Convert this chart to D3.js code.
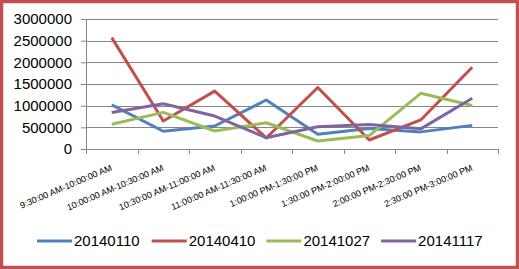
<!DOCTYPE html>
<html>
<head>
<meta charset="utf-8">
<script src="https://cdn.jsdelivr.net/npm/d3@7"></script>
<style>
  body { margin: 0; background: #fff; }
  text { font-family: "Liberation Sans", Arial, sans-serif; }
</style>
</head>
<body>
<div id="chart"></div>
<script>
// Data for the chart
const categories = [
    "9:30:00 AM-10:00:00 AM", "10:00:00 AM-10:30:00 AM", "10:30:00 AM-11:00:00 AM",
    "11:00:00 AM-11:30:00 AM", "1:00:00 PM-1:30:00 PM", "1:30:00 PM-2:00:00 PM",
    "2:00:00 PM-2:30:00 PM", "2:30:00 PM-3:00:00 PM"
];
const seriesNames = ["20140110", "20140410", "20141027", "20141117"];
const s20140110 = [1020000, 410000, 530000, 1130000, 340000, 475000, 395000, 545000];
const s20140410 = [2570000, 645000, 1335000, 255000, 1420000, 208000, 670000, 1885000];
const s20141027 = [570000, 845000, 415000, 605000, 185000, 310000, 1285000, 1005000];
const s20141117 = [840000, 1045000, 760000, 260000, 515000, 565000, 465000, 1170000];
const yTicks = [0, 500000, 1000000, 1500000, 2000000, 2500000, 3000000];
const colors = ["#4f81bd", "#c0504d", "#9bbb59", "#8064a2"];

const series = [s20140110, s20140410, s20141027, s20141117];

const W = 519, H = 269;
const margin = { top: 19, right: 21, bottom: 120, left: 86 };
const width = W - margin.left - margin.right;
const height = H - margin.top - margin.bottom;

const root = d3.select("#chart")
    .append("svg")
    .attr("width", W)
    .attr("height", H);

// Outer frame
root.append("rect")
    .attr("x", 1.5).attr("y", 1.5)
    .attr("width", W - 3).attr("height", H - 3)
    .attr("fill", "#fff")
    .attr("stroke", "#c0504d")
    .attr("stroke-width", 3.5);

const svg = root.append("g")
    .attr("transform", `translate(${margin.left},${margin.top})`);

// Scales
const x = d3.scaleBand().domain(categories).range([0, width]);
const y = d3.scaleLinear().domain([0, 3000000]).range([height, 0]);

// Gridlines
svg.selectAll(".grid")
    .data(yTicks.filter(d => d > 0))
    .enter()
    .append("line")
    .attr("x1", 0).attr("x2", width)
    .attr("y1", d => Math.round(y(d)) + 0.5)
    .attr("y2", d => Math.round(y(d)) + 0.5)
    .attr("stroke", "#868686");

// Y axis
const yAxis = svg.append("g")
    .call(d3.axisLeft(y).tickValues(yTicks).tickSize(5).tickPadding(9).tickFormat(d3.format("d")));
yAxis.selectAll("text").style("font-size", "15px").attr("fill", "#000");
yAxis.selectAll("line, path").attr("stroke", "#868686");

// X axis with ticks at category boundaries
const xAxis = svg.append("g").attr("transform", `translate(0,${height})`);
xAxis.append("line")
    .attr("x1", 0).attr("x2", width).attr("y1", 0.5).attr("y2", 0.5)
    .attr("stroke", "#868686");
xAxis.selectAll(".tick")
    .data(d3.range(categories.length + 1))
    .enter()
    .append("line")
    .attr("x1", i => Math.round(i * x.bandwidth()) + 0.5)
    .attr("x2", i => Math.round(i * x.bandwidth()) + 0.5)
    .attr("y1", 0).attr("y2", 5)
    .attr("stroke", "#868686");
xAxis.selectAll(".xlabel")
    .data(categories)
    .enter()
    .append("text")
    .attr("text-anchor", "end")
    .attr("transform", d => `translate(${x(d) + x.bandwidth() / 2 + 1},${21}) rotate(-23)`)
    .style("font-size", "9px")
    .attr("fill", "#000")
    .text(d => d);

// Lines
const line = d3.line()
    .x((d, i) => x(categories[i]) + x.bandwidth() / 2)
    .y(d => y(d));

svg.selectAll(".series")
    .data(series)
    .enter()
    .append("path")
    .attr("d", d => line(d))
    .attr("fill", "none")
    .attr("stroke", (d, i) => colors[i])
    .attr("stroke-width", 3)
    .attr("stroke-linejoin", "round");

// Legend
const legend = root.append("g").attr("transform", "translate(37,241)");
const item = legend.selectAll(".item")
    .data(seriesNames)
    .enter()
    .append("g")
    .attr("transform", (d, i) => `translate(${i * 114.7},0)`);
item.append("line")
    .attr("x1", 0).attr("x2", 35)
    .attr("stroke", (d, i) => colors[i])
    .attr("stroke-width", 3);
item.append("text")
    .attr("x", 37)
    .attr("dy", "0.36em")
    .style("font-size", "15px")
    .attr("fill", "#000")
    .text(d => d);
</script>
</body>
</html>
